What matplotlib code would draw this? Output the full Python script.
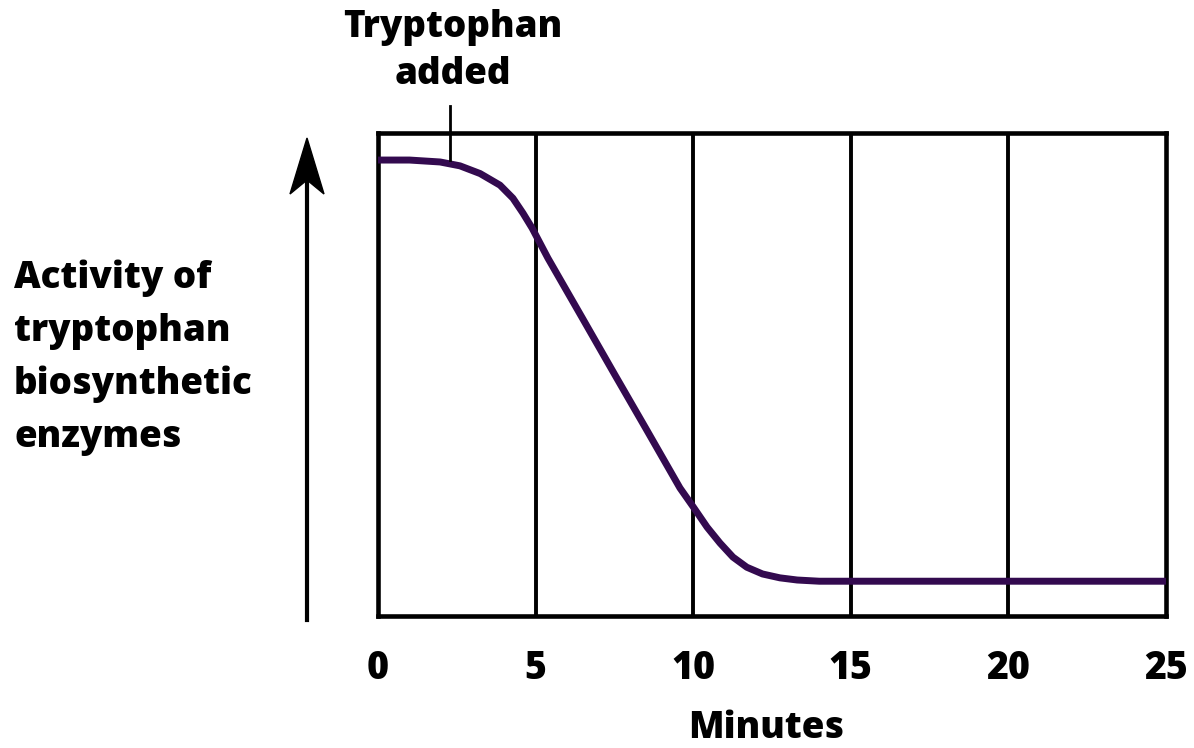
import matplotlib
matplotlib.use("Agg")
import matplotlib.pyplot as plt
from matplotlib.patches import Polygon

# ---------------------------
# Data
# ---------------------------
minutes = [0, 1.0, 1.97, 2.6, 3.24, 3.87, 4.28, 4.6, 4.89, 5.14, 5.39,
           6.5, 7.5, 8.5, 9.58, 10.0, 10.44, 10.85, 11.26, 11.7, 12.2,
           12.75, 13.3, 14.0, 25]
activity = [94.4, 94.4, 94.0, 93.2, 91.6, 89.2, 86.5, 83.4, 80.3, 77.2, 74.1,
            61.5, 50.1, 38.8, 26.5, 22.6, 18.4, 15.1, 12.2, 10.1, 8.7,
            7.9, 7.45, 7.2, 7.2]
gridlines = [5, 10, 15, 20]
xticks = [0, 5, 10, 15, 20, 25]
added_at = 2.3

plt.rcParams['font.family'] = ['Open Sans', 'DejaVu Sans']

W, H = 1194, 748
fig = plt.figure(figsize=(W / 100, H / 100), dpi=100)
ax = fig.add_axes([378 / W, 1 - 616 / H, 788 / W, 483 / H])

ax.plot(minutes, activity, color='#330a4f', lw=5, solid_capstyle='butt',
        solid_joinstyle='round', zorder=3)
for g in gridlines:
    ax.axvline(g, color='black', lw=2.8, zorder=2)

ax.set_xlim(0, 25)
ax.set_ylim(0, 100)
ax.set_xticks(xticks)
ax.set_xticklabels([str(t) for t in xticks], fontsize=27, fontweight='heavy')
ax.tick_params(axis='x', length=0, pad=24)
ax.set_yticks([])
for s in ax.spines.values():
    s.set_linewidth(3.3)

# "Tryptophan added" marker line above the axes
ax.plot([added_at, added_at], [94.4, 105.5], color='black', lw=2,
        clip_on=False, zorder=3)
fig.text(453 / W, 1 - 28 / H, "Tryptophan", ha='center', va='center',
         fontsize=26.5, fontweight='heavy')
fig.text(453 / W, 1 - 74 / H, "added", ha='center', va='center',
         fontsize=26.5, fontweight='heavy')

# y label block
ylabel_lines = ["Activity of", "tryptophan", "biosynthetic", "enzymes"]
for i, line in enumerate(ylabel_lines):
    fig.text(14 / W, 1 - (278 + 53 * i) / H, line, ha='left', va='center',
             fontsize=26.5, fontweight='heavy')

fig.text(766 / W, 1 - 728 / H, "Minutes", ha='center', va='center',
         fontsize=26.5, fontweight='heavy')

# upward arrow on the left
ax.plot([307 / W, 307 / W], [1 - 620 / H, 1 - 180 / H], color='black', lw=3,
        transform=fig.transFigure, clip_on=False)
head = Polygon([(307 / W, 1 - 138 / H), (290 / W, 1 - 194 / H),
                (307 / W, 1 - 180 / H), (324 / W, 1 - 194 / H)],
               closed=True, color='black', transform=fig.transFigure)
fig.add_artist(head)

fig.savefig("out.png", dpi=100, facecolor='white')
